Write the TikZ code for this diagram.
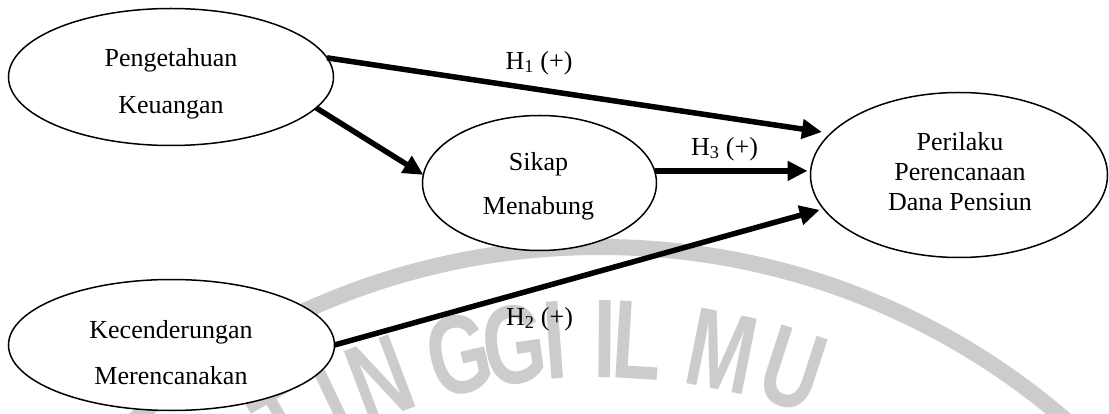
\documentclass[tikz,border=0pt]{standalone}
\usepackage{fontspec}
\setmainfont{Liberation Serif}
\newfontfamily\wmfont{Liberation Sans}
\usetikzlibrary{arrows.meta,shapes.geometric,calc}
\definecolor{wmgray}{RGB}{204,204,204}
\tikzset{
  ell/.style={ellipse, draw=black, line width=1.5pt, fill=white, inner sep=0pt, outer sep=0pt},
  txt/.style={align=center, inner sep=0pt},
  lbl/.style={font=\fontsize{26}{30}\selectfont, inner sep=0pt},
  arr/.style={line width=5.5pt, -{Triangle[length=20pt,width=19pt]}},
  wm/.style={text=wmgray, font=\wmfont\bfseries\fontsize{112}{112}\selectfont, inner sep=0pt},
  band/.style={draw=wmgray, line width=16pt},
}
\begin{document}
\begin{tikzpicture}[x=1pt,y=-1pt]
\useasboundingbox (0,0) rectangle (1109,414);
% watermark
\begin{scope}
\clip (0,0) rectangle (1109,414);
\coordinate (wc) at (600,960);
\path[band] (wc) circle[radius=713];
\foreach \ang/\ch [count=\i] in {120.5/T,115.5/I,110.7/N,103.1/G,97.9/G,94.2/I,89.5/I,86.5/L,78.7/M,71.9/U}
  \node[wm, rotate=\ang-90, xscale=0.72] (wl\i) at ($(wc)+(-\ang:621)$) {\ch};
\end{scope}
% ellipses
\node[ell, minimum width=325pt, minimum height=137pt] (pk) at (171,77) {};
\node[ell, minimum width=234pt, minimum height=135pt] (sm) at (539.5,183) {};
\node[ell, minimum width=326pt, minimum height=131pt] (kc) at (171.5,345) {};
\node[ell, minimum width=297pt, minimum height=165pt] (pr) at (959,175) {};
% texts
\node[txt, font=\fontsize{26}{47}\selectfont] (pkt) at (171,84) {Pengetahuan\\Keuangan};
\node[txt, font=\fontsize{26}{44}\selectfont] (smt) at (538.5,186) {Sikap\\Menabung};
\node[txt, font=\fontsize{26}{46}\selectfont] (kct) at (171,353) {Kecenderungan\\Merencanakan};
\node[txt, font=\fontsize{26}{30}\selectfont] (prt) at (960,172) {Perilaku\\Perencanaan\\Dana Pensiun};
% arrows
\draw[arr, shorten >=9pt] (pk.7) -- (pr.162);
\draw[arr] (pk.-12) -- (sm.176);
\draw[arr, shorten >=3pt] (sm.6) -- (sm.6 -| pr.west);
\draw[arr, shorten >=4pt] (kc.east) -- (pr.194);
% labels
\node[lbl] (h1) at (539,63) {H\textsubscript{1} (+)};
\node[lbl] (h3) at (724.5,149) {H\textsubscript{3} (+)};
\node[lbl] (h2) at (539.5,319) {H\textsubscript{2} (+)};
\end{tikzpicture}
\end{document}
